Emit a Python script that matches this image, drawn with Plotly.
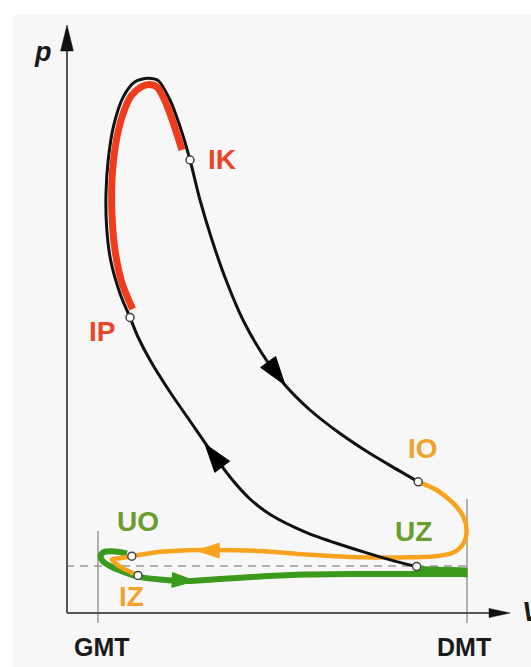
import plotly.graph_objects as go

# ---------------- data (V: volume units, p: pressure units) ----------------
GMT_V, DMT_V = 7.75, 100.0
tick_vals = [GMT_V, DMT_V]
tick_text = ["GMT", "DMT"]
p_ambient = 11.75

# compression: UZ -> IP
compression_V = [87.4, 80.6, 74.7, 67.9, 59.45, 51.0, 45.75, 40.75, 35.75, 30.75, 25.75, 20.75, 17.75, 15.75]
compression_p = [11.6, 13.35, 15.1, 17.25, 20.3, 24.5, 28.5, 34.0, 40.75, 48.0, 55.25, 63.25, 69.0, 73.9]

# combustion (outline): IP -> IK
combustion_V = [15.75, 13.25, 10.9, 9.9, 9.75, 10.3, 11.6, 14.1, 17.0, 20.3, 22.8, 25.75, 28.25, 30.75]
combustion_p = [73.9, 79.9, 88.25, 96.6, 104.9, 113.25, 121.6, 129.1, 132.8, 133.7, 133.1, 128.25, 121.6, 113.25]

# combustion (red band)
burn_V = [16.4, 13.75, 12.0, 11.25, 11.25, 12.1, 13.75, 16.0, 18.5, 20.5, 22.5, 24.5, 26.5, 28.75]
burn_p = [76.0, 82.5, 90.75, 99.5, 108.25, 116.75, 124.0, 129.25, 131.5, 132.1, 131.5, 128.0, 122.75, 115.75]

# expansion: IK -> IO
expansion_V = [30.75, 33.25, 36.25, 39.75, 44.0, 49.0, 54.5, 60.75, 67.75, 74.0, 80.75, 87.8]
expansion_p = [113.25, 103.25, 93.25, 83.25, 73.25, 64.5, 57.0, 50.75, 45.25, 41.0, 36.9, 32.8]

# exhaust (orange): IO -> IZ
exhaust_V = [87.8, 92.4, 96.6, 99.1, 99.9, 99.1, 96.6, 91.6, 83.25, 70.75, 59.5, 48.25,
             33.25, 23.25, 16.2, 13.25, 11.2, 13.25, 15.75, 17.75]
exhaust_p = [32.8, 30.75, 27.4, 24.1, 20.75, 17.4, 15.1, 14.1, 13.9, 14.0, 14.6, 15.5,
             15.75, 15.3, 14.2, 13.7, 13.4, 11.6, 10.3, 9.4]

# intake (green): UO -> GMT -> DMT
intake_V = [15.0, 12.0, 9.25, 8.4, 9.0, 10.75, 13.25, 16.0, 18.7, 23.25, 29.75, 38.25,
            48.25, 59.5, 70.75, 83.25, 99.75]
intake_p = [14.9, 15.4, 15.25, 14.25, 12.9, 11.75, 10.6, 9.6, 8.9, 8.4, 8.0, 8.5,
            9.1, 9.6, 9.75, 9.75, 9.75]

# intake after DMT until UZ (green wedge)
wedge_V = [87.25, 100.0, 100.0, 87.25]
wedge_p = [11.6, 11.25, 9.0, 10.4]

# valve / ignition events
event_names = ["IK", "IP", "IO", "UZ", "UO", "IZ"]
event_V = [30.75, 15.75, 87.8, 87.4, 16.2, 17.75]
event_p = [113.25, 73.9, 32.8, 11.6, 14.2, 9.4]
label_V = [38.75, 8.75, 89.1, 86.6, 17.75, 16.2]
label_p = [113.5, 70.5, 41.2, 20.3, 23.0, 4.1]

# direction arrows on the curves: (from point, tip point)
arrow_from_V = [49.0, 40.75, 43.25, 23.25]
arrow_from_p = [64.5, 34.0, 15.6, 8.4]
arrow_tip_V = [54.5, 34.5, 32.35, 32.0]
arrow_tip_p = [57.0, 42.25, 15.6, 8.0]
arrow_size = [30, 30, 24, 24]

# ---------------- style ----------------
BLACK = "#111111"
RED = "#f03c1c"
RED_TXT = "#e9462a"
ORANGE = "#f7a31e"
ORANGE_TXT = "#f4a22a"
GREEN = "#3b9a1c"
GREEN_TXT = "#6a9d2e"
label_colors = [RED_TXT, RED_TXT, ORANGE_TXT, GREEN_TXT, GREEN_TXT, ORANGE_TXT]
arrow_colors = ["#000000", "#000000", ORANGE, GREEN]
FONT = "Liberation Sans, Arial, sans-serif"

# one continuous black path: compression -> combustion -> expansion
cycle_V = compression_V + combustion_V[1:] + expansion_V[1:]
cycle_p = compression_p + combustion_p[1:] + expansion_p[1:]

fig = go.Figure()

fig.add_trace(go.Scatter(x=wedge_V, y=wedge_p, fill="toself", fillcolor=GREEN,
                         mode="lines", line=dict(color=GREEN, width=1), hoverinfo="skip"))
fig.add_trace(go.Scatter(x=intake_V, y=intake_p, mode="lines",
                         line=dict(color=GREEN, width=6, shape="spline", smoothing=0.8)))
fig.add_trace(go.Scatter(x=exhaust_V, y=exhaust_p, mode="lines",
                         line=dict(color=ORANGE, width=4.5, shape="spline", smoothing=0.8)))
fig.add_trace(go.Scatter(x=cycle_V, y=cycle_p, mode="lines",
                         line=dict(color=BLACK, width=3, shape="spline", smoothing=0.8)))
fig.add_trace(go.Scatter(x=burn_V, y=burn_p, mode="lines",
                         line=dict(color=RED, width=7, shape="spline", smoothing=0.8)))

for i in range(len(arrow_tip_V)):
    fig.add_trace(go.Scatter(
        x=[arrow_from_V[i], arrow_tip_V[i]], y=[arrow_from_p[i], arrow_tip_p[i]],
        mode="markers", opacity=1,
        marker=dict(symbol="arrow", size=[0, arrow_size[i]], angleref="previous",
                    color=arrow_colors[i], opacity=1,
                    line=dict(width=1, color=arrow_colors[i]))))

fig.add_trace(go.Scatter(x=event_V, y=event_p, mode="markers",
                         marker=dict(symbol="circle", size=8, color="white",
                                     line=dict(color="#444444", width=1.5))))

shapes = [
    # photo-like background
    dict(type="rect", xref="paper", yref="paper", x0=0.0245, x1=1, y0=0, y1=0.978,
         fillcolor="#f7f7f7", line=dict(width=0), layer="below"),
    # ambient pressure (dashed)
    dict(type="line", x0=-0.25, x1=100.75, y0=p_ambient, y1=p_ambient,
         line=dict(color="#9a9a9a", width=1.5, dash="8px,6px"), layer="below"),
    # GMT / DMT
    dict(type="line", x0=GMT_V, x1=GMT_V, y0=-2.5, y1=20.5,
         line=dict(color="#8a8a8a", width=1.3), layer="below"),
    dict(type="line", x0=DMT_V, x1=DMT_V, y0=-2.5, y1=28.5,
         line=dict(color="#8a8a8a", width=1.3), layer="below"),
    # axes
    dict(type="line", x0=0, x1=0, y0=0, y1=141, line=dict(color="#555555", width=2)),
    dict(type="line", x0=0, x1=106, y0=0, y1=0, line=dict(color="#555555", width=2)),
    dict(type="path", path="M -1.6 140.5 L 1.6 140.5 L 0 147 Z",
         fillcolor=BLACK, line=dict(color=BLACK, width=0.5)),
    dict(type="path", path="M 105.5 -1.15 L 105.5 1.15 L 110.75 0 Z",
         fillcolor=BLACK, line=dict(color=BLACK, width=0.5)),
]

annotations = []
for name, x, y, c in zip(event_names, label_V, label_p, label_colors):
    annotations.append(dict(x=x, y=y, text=name, showarrow=False,
                            font=dict(family=FONT, size=28, color=c, weight="bold")))
for v, t, dx in zip(tick_vals, tick_text, [3.5, -3]):
    annotations.append(dict(x=v, y=-8.5, text=t, showarrow=False, xshift=dx,
                            font=dict(family=FONT, size=25, color="#1a1a1a", weight="bold")))
annotations.append(dict(x=-6, y=140.25, text="<i>p</i>", showarrow=False,
                        font=dict(family=FONT, size=27, color="#1a1a1a", weight="bold")))
annotations.append(dict(x=113.25, y=0.25, text="<i>V</i>", showarrow=False, xanchor="left",
                        font=dict(family=FONT, size=27, color="#1a1a1a", weight="bold")))

fig.update_layout(
    width=531, height=667, margin=dict(l=0, r=0, t=0, b=0),
    paper_bgcolor="white", plot_bgcolor="rgba(0,0,0,0)",
    showlegend=False, shapes=shapes, annotations=annotations,
    xaxis=dict(range=[-16.75, 116.0], visible=False, fixedrange=True),
    yaxis=dict(range=[-13.5, 153.25], visible=False, fixedrange=True),
)

fig.write_html("out.html", config={"displayModeBar": False},
               post_script="document.body.style.margin='0px';")
